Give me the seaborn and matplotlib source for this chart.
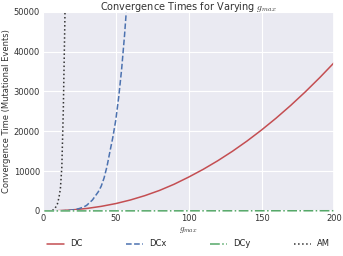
import numpy as np
import pandas as pd
import matplotlib
matplotlib.use("Agg")
import matplotlib.pyplot as plt
import seaborn as sns

# Data
dc_x = [1, 10, 20, 30, 40, 50, 60, 70, 80, 90, 100, 110, 120, 130, 140, 150, 160, 170, 180, 190, 200]
dc_y = [0, 60, 260, 620, 1150, 1850, 2750, 3850, 5150, 6700, 8500, 10450, 12610, 14970, 17540,
        20320, 23300, 26490, 29890, 33500, 37310]

dcx_x = [1, 5, 10, 15, 20, 25, 28, 30, 34, 38, 40, 42, 44, 46, 48, 50, 52, 54, 56, 58]
dcx_y = [0, 0, 20, 80, 220, 600, 1000, 1400, 2750, 4800, 6200, 8300, 11200, 14900, 18500,
         22800, 28500, 35500, 44000, 54000]

dcy_x = [1, 10, 20, 50, 100, 150, 200]
dcy_y = [0, 5, 10, 20, 30, 40, 50]

am_x = [1, 4, 6, 8, 10, 11, 12, 13, 14, 15, 16]
am_y = [0, 0, 80, 400, 1800, 3300, 5500, 11000, 25000, 46000, 70000]

series = [("DC", dc_x, dc_y), ("DCx", dcx_x, dcx_y), ("DCy", dcy_x, dcy_y), ("AM", am_x, am_y)]
colors = {"DC": "#C44E52", "DCx": "#4C72B0", "DCy": "#55A868", "AM": "#333333"}
styles = {"DC": "-", "DCx": "--", "DCy": "-.", "AM": ":"}

sns.set_theme(style="darkgrid")
plt.rcParams['font.family'] = ['DejaVu Sans']
plt.rcParams['mathtext.fontset'] = 'cm'

fig = plt.figure(figsize=(3.43, 2.56), dpi=100)
ax = fig.add_axes([0.125, 0.176, 0.85, 0.778])

for name, xs, ys in series:
    df = pd.DataFrame({"g": xs, "t": ys})
    sns.lineplot(data=df, x="g", y="t", ax=ax, color=colors[name], linestyle=styles[name],
                 linewidth=1.1, label=name, legend=False)
for ln in ax.lines:
    if ln.get_label() == "DCy":
        ln.set_clip_on(False)
        ln.set_zorder(5)

ax.set_xlim(0, 200)
ax.set_ylim(0, 50000)
ax.set_xticks([0, 50, 100, 150, 200])
ax.set_yticks([0, 10000, 20000, 30000, 40000, 50000])
ax.tick_params(labelsize=6, pad=2, length=0, colors="#333333")
ax.set_xlabel(r"$g_{max}$", fontsize=6.5, labelpad=2, color="#333333")
ax.set_ylabel("Convergence Time (Mutational Events)", fontsize=6, labelpad=2, color="#333333")
ax.set_title(r"Convergence Times for Varying $g_{max}$", fontsize=7, pad=1.5, color="#333333")
ax.grid(True, color="white", linewidth=0.8)

handles, labels = ax.get_legend_handles_labels()
fig.legend(handles, labels, loc="lower center", bbox_to_anchor=(0.55, 0.0), ncol=4,
           frameon=False, fontsize=6, columnspacing=5.2, handlelength=2.0, handletextpad=0.8)

fig.savefig("out.png", dpi=100)
